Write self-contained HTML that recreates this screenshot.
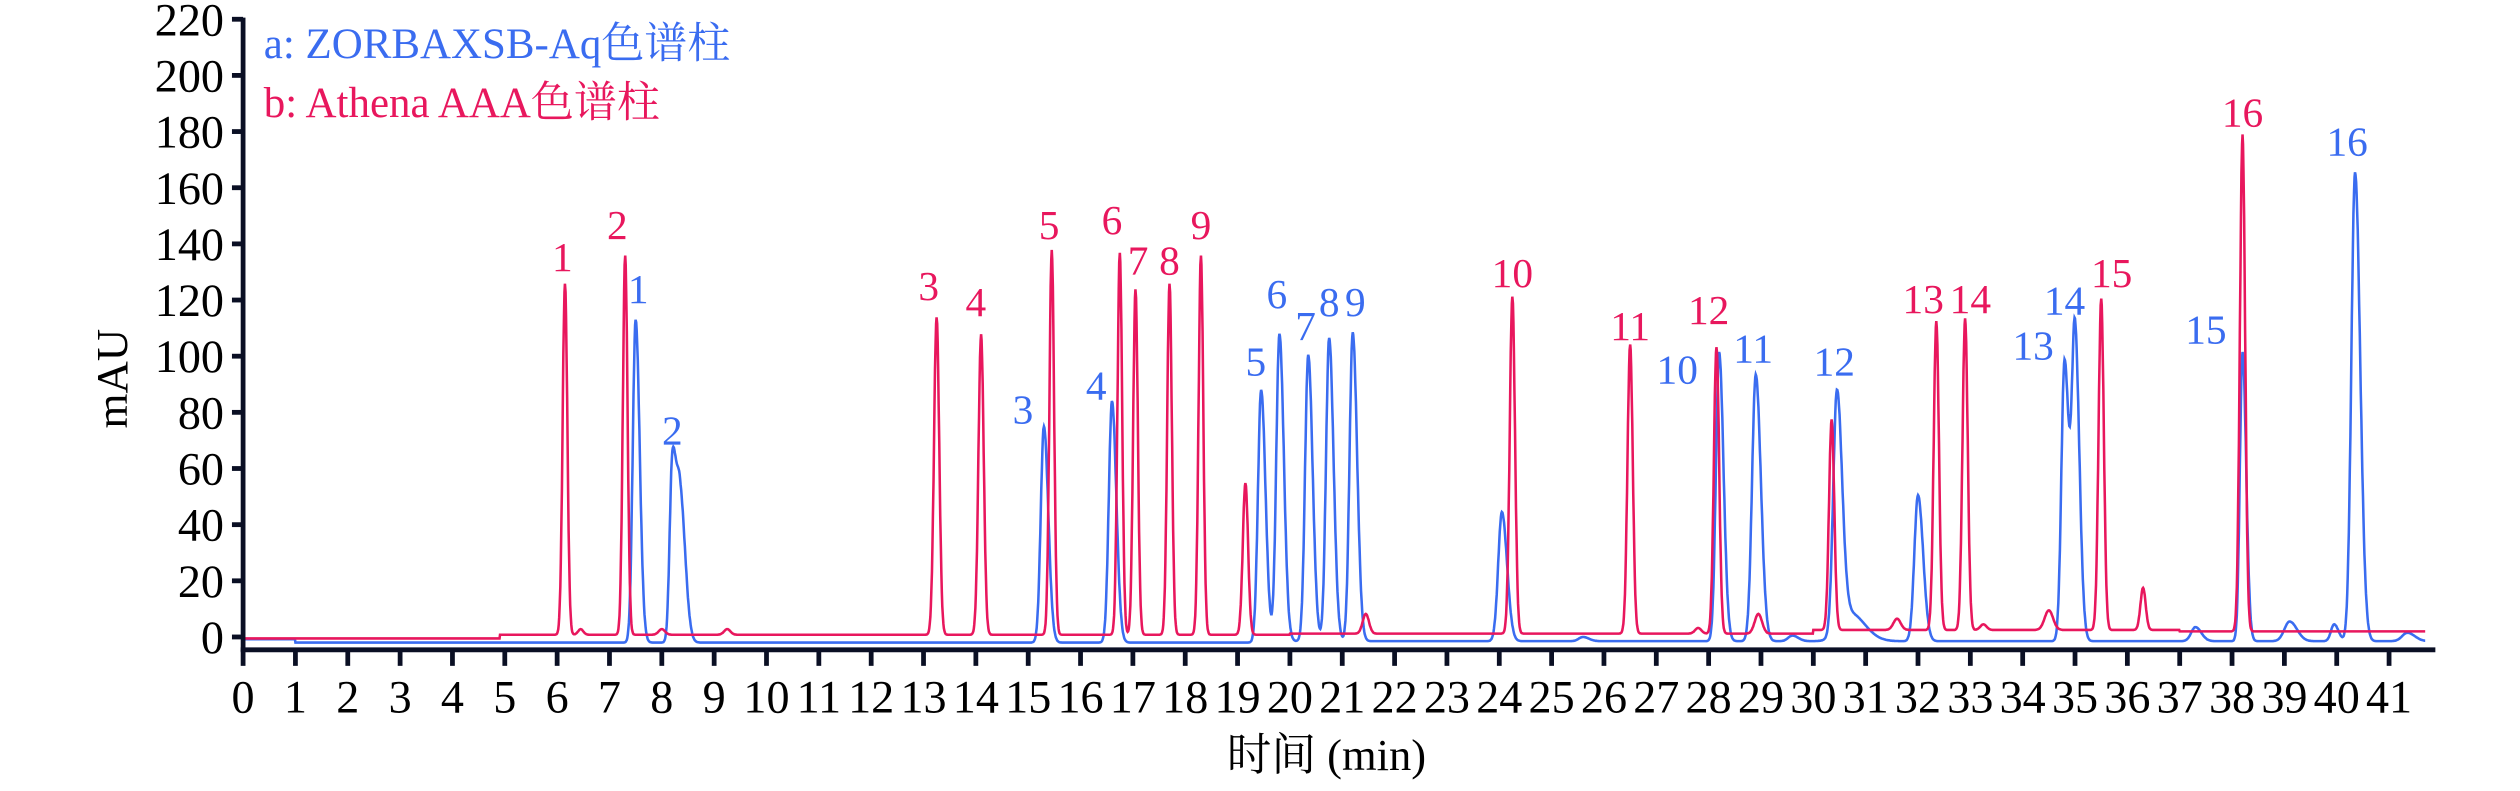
<!DOCTYPE html>
<html><head><meta charset="utf-8"><style>
html,body{margin:0;padding:0;background:#fff;width:2520px;height:791px;overflow:hidden}
svg{display:block}
text{font-family:"Liberation Serif","Noto Serif CJK SC","Noto Sans CJK SC",serif}
</style></head><body>
<svg id="s" width="2520" height="791" viewBox="-1.8 0 1584 493" preserveAspectRatio="none" xmlns="http://www.w3.org/2000/svg">
<g id="lines"></g>
<g id="axes" stroke="#0a0f24" stroke-width="3" fill="none">
<line x1="151" y1="11" x2="151" y2="406"/>
<line x1="149.5" y1="405" x2="1529" y2="405"/>
</g>
<g id="ticks" stroke="#0a0f24" stroke-width="3"></g>
<g id="labels" font-size="29" fill="#000"></g>
<text x="164" y="36" font-size="27" fill="#3a6cf0">a: ZORBAXSB-Aq色谱柱</text>
<text x="164" y="73" font-size="27" fill="#e8175d">b: Athena AAA色谱柱</text>
<text transform="translate(78,236) rotate(-90)" text-anchor="middle" font-size="28" fill="#000">mAU</text>
<text x="832" y="480" text-anchor="middle" font-size="28" fill="#000">时间 (min)</text>
<g id="pl" font-size="26"></g>
</svg>
<script>
var NS="http://www.w3.org/2000/svg";
function X(t){return 151+t*32.9;}
function Y(v){return 397-v*1.75;}
function el(p,n,a,txt){var e=document.createElementNS(NS,n);for(var k in a)e.setAttribute(k,a[k]);if(txt!=null)e.textContent=txt;p.appendChild(e);return e;}
var ticks=document.getElementById('ticks'),labels=document.getElementById('labels');
for(var v=0;v<=220;v+=20){var y=Y(v);el(ticks,'line',{x1:144,y1:y,x2:151,y2:y});el(labels,'text',{x:139,y:y+10,'text-anchor':'end'},v);}
for(var t=0;t<=41;t++){var x=X(t);el(ticks,'line',{x1:x,y1:405,x2:x,y2:415});el(labels,'text',{x:x,y:444,'text-anchor':'middle'},t);}
var red=[[6.15,125,.045],[6.45,2,.05],[7.3,135,.045],[8.0,2,.06],[9.25,2,.06],[13.25,113,.05],[14.1,107,.05],[15.45,137,.045],[16.75,136,.045],[17.05,123,.045],[17.7,125,.045],[18.3,135,.045],[19.15,54,.05],[21.45,7,.06],[24.25,120,.05],[26.5,103,.05],[27.8,2,.06],[28.15,102,.05],[28.95,7,.07],[30.35,75,.05],[31.6,4,.07],[32.35,110,.05],[32.9,111,.05],[33.25,2,.06],[34.5,7,.08],[35.5,118,.05],[36.3,15,.05],[38.2,177,.05]];
var blue=[[7.5,115,.055],[8.2,63,.05],[8.35,52,.07],[15.3,77,.06],[16.6,86,.06],[19.45,90,.06],[19.8,110,.06],[20.35,102,.06],[20.75,108,.06],[21.2,110,.06],[24.05,46,.07],[25.6,1.5,.08],[28.2,103,.06],[28.9,95,.07],[29.6,2,.08],[30.45,85,.07],[30.7,10,.2],[32.0,52,.07],[34.8,100,.06],[35.0,109,.06],[37.3,5,.08],[38.2,103,.05],[39.1,7,.1],[39.95,6,.06],[40.35,167,.07],[41.35,3,.1]];
function base(t,c){if(c=='r'){return t<4.9?-0.5:(t<20?0.8:(t<30?1.2:(t<37?2.5:2)));}return t<1?-0.8:(t<20?-2:-1.5);}
function path(pk,c){var d='',N=0;for(var t=0;t<=41.7;t+=0.01){var v=base(t,c);for(var i=0;i<pk.length;i++){var p=pk[i],s=p[2];var dt=t-p[0];if(c=='b'&&dt>0)s*=1.4;v+=p[1]*Math.exp(-dt*dt/(2*s*s));}d+=(N++?'L':'M')+X(t).toFixed(1)+' '+Y(v).toFixed(1);}return d;}
var L=document.getElementById('lines');
el(L,'path',{d:path(blue,'b'),fill:'none',stroke:'#3a6cf0','stroke-width':1.6});
el(L,'path',{d:path(red,'r'),fill:'none',stroke:'#e8175d','stroke-width':1.6});
var pl=document.getElementById('pl');
var rl=[[6.1,160,1],[7.15,140,2],[13.1,178,3],[14.0,188,4],[15.4,140,5],[16.6,137,6],[17.1,162,7],[17.7,162,8],[18.3,140,9],[24.25,170,10],[26.5,203,11],[28.0,193,12],[32.1,186,13],[33.0,186,14],[35.7,170,15],[38.2,70,16]];
var bl=[[7.55,180,1],[8.2,268,2],[14.9,255,3],[16.3,240,4],[19.35,225,5],[19.75,183,6],[20.3,203,7],[20.75,188,8],[21.25,188,9],[27.4,230,10],[28.85,217,11],[30.4,225,12],[34.2,215,13],[34.8,187,14],[37.5,205,15],[40.2,88,16]];
rl.forEach(function(a){el(pl,'text',{x:X(a[0]),y:a[1]+9,'text-anchor':'middle',fill:'#e8175d'},a[2]);});
bl.forEach(function(a){el(pl,'text',{x:X(a[0]),y:a[1]+9,'text-anchor':'middle',fill:'#3a6cf0'},a[2]);});
</script>
</body></html>
